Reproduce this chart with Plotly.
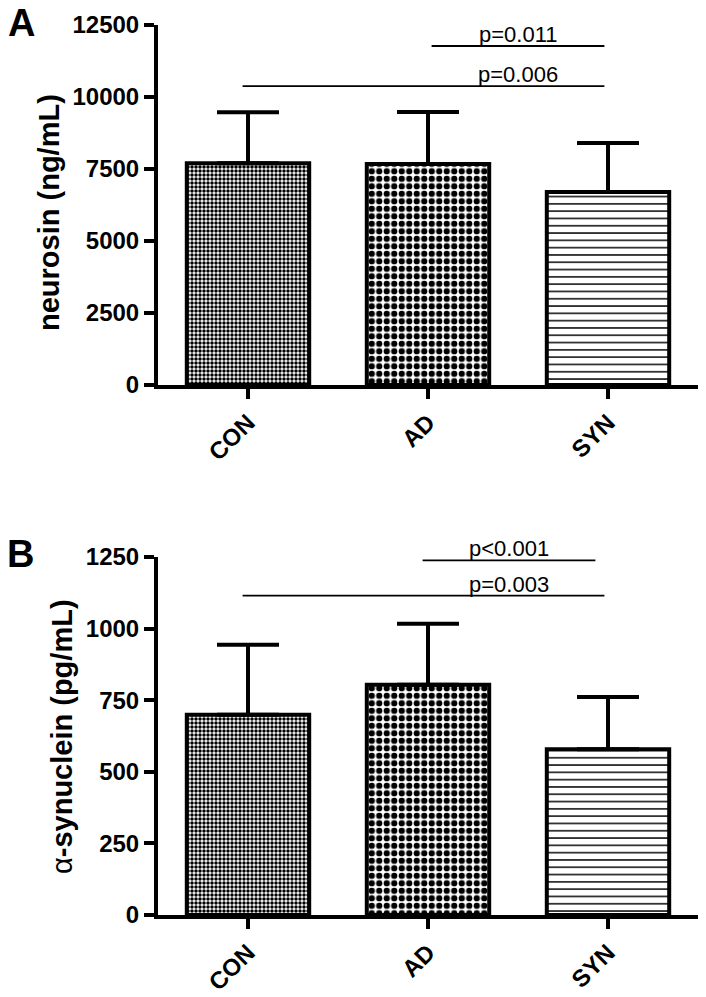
import plotly.graph_objects as go
from plotly.subplots import make_subplots

# ---- data ----
groups = ["CON", "AD", "SYN"]

neurosin_mean = [7700, 7675, 6700]
neurosin_sd = [1770, 1805, 1700]

asyn_mean = [699, 804, 579]
asyn_sd = [245, 213, 182]

# significance brackets: label, x start, x end (category index units), y level
sigA_labels = ["p=0.011", "p=0.006"]
sigA_x0 = [1.02, -0.03]
sigA_x1 = [1.98, 1.98]
sigA_y = [11770, 10380]
sigA_text_x = 1.5

sigB_labels = ["p<0.001", "p=0.003"]
sigB_x0 = [0.97, -0.03]
sigB_x1 = [1.93, 1.98]
sigB_y = [1238, 1115]
sigB_text_x = 1.45

yA_ticks = [0, 2500, 5000, 7500, 10000, 12500]
yB_ticks = [0, 250, 500, 750, 1000, 1250]

# ---- styling ----
pattern_shapes = [".", ".", "-"]
pattern_sizes = [4, 7.5, 7.3]
pattern_solid = [0.6, 0.55, 0.2]

W, H = 706, 997
ML, MR, MT, MB = 158, 8, 25, 82
PW = W - ML - MR
PH = H - MT - MB


def py2paper(py):
    return (H - MB - py) / PH


def px2paper(px):
    return (px - ML) / PW


fig = make_subplots(rows=2, cols=1)


def add_panel(row, means, sds, labels, x0s, x1s, ys, text_x):
    fig.add_trace(go.Bar(
        x=groups, y=means, width=0.68,
        marker=dict(color="white",
                    line=dict(color="black", width=4),
                    pattern=dict(shape=pattern_shapes, size=pattern_sizes,
                                 solidity=pattern_solid, fgcolor="black",
                                 bgcolor="white", fillmode="replace")),
        error_y=dict(type="data", array=sds, arrayminus=[0] * len(sds),
                     symmetric=False, color="black", thickness=4, width=31),
        showlegend=False, hoverinfo="skip"), row=row, col=1)
    xa = "x" if row == 1 else "x2"
    ya = "y" if row == 1 else "y2"
    for lab, a, b, yv in zip(labels, x0s, x1s, ys):
        fig.add_shape(type="line", x0=a, x1=b, y0=yv, y1=yv, xref=xa, yref=ya,
                      line=dict(color="black", width=1.8))
        fig.add_annotation(x=text_x, y=yv, xref=xa, yref=ya, text=lab,
                           showarrow=False, xanchor="center", yanchor="bottom",
                           yshift=-3,
                           font=dict(family="Liberation Sans", size=22, color="black"))


add_panel(1, neurosin_mean, neurosin_sd, sigA_labels, sigA_x0, sigA_x1, sigA_y, sigA_text_x)
add_panel(2, asyn_mean, asyn_sd, sigB_labels, sigB_x0, sigB_x1, sigB_y, sigB_text_x)

tickfont = dict(family="Liberation Sans", size=24, color="black", weight="bold")
xcommon = dict(type="category", range=[-0.5, 2.5], showline=True, linewidth=4,
               linecolor="black", ticks="outside", ticklen=10, tickwidth=3.5,
               tickcolor="black", tickangle=-45, tickfont=tickfont,
               showgrid=False, zeroline=False, domain=[0, 1], automargin=False)
ycommon = dict(showline=True, linewidth=4, linecolor="black", ticks="outside",
               ticklen=10, tickwidth=3.5, tickcolor="black", tickfont=tickfont,
               tickformat="d", showgrid=False, zeroline=False, automargin=False)

fig.update_layout(
    xaxis=dict(**xcommon, anchor="y"),
    xaxis2=dict(**xcommon, anchor="y2"),
    yaxis=dict(**ycommon, range=[0, 12500], tickvals=yA_ticks,
               domain=[py2paper(385), 1.0], anchor="x"),
    yaxis2=dict(**ycommon, range=[0, 1250], tickvals=yB_ticks,
                domain=[0.0, py2paper(557)], anchor="x2"),
    width=W, height=H, autosize=False,
    margin=dict(l=ML, r=MR, t=MT, b=MB),
    paper_bgcolor="white", plot_bgcolor="white",
    bargap=0.3,
)

# axis titles
fig.add_annotation(x=px2paper(49), y=py2paper(212), xref="paper", yref="paper",
                   text="<b>neurosin (ng/mL)</b>", textangle=-90, showarrow=False,
                   xanchor="center", yanchor="middle",
                   font=dict(family="Liberation Sans", size=29, color="black"))
fig.add_annotation(x=px2paper(62), y=py2paper(737), xref="paper", yref="paper",
                   text="α<b>-synuclein (pg/mL)</b>", textangle=-90, showarrow=False,
                   xanchor="center", yanchor="middle",
                   font=dict(family="Liberation Sans", size=29, color="black"))

# panel letters
fig.add_annotation(x=px2paper(21), y=py2paper(23), xref="paper", yref="paper",
                   text="<b>A</b>", showarrow=False, xanchor="center", yanchor="middle",
                   font=dict(family="Liberation Sans", size=38, color="black"))
fig.add_annotation(x=px2paper(20), y=py2paper(554), xref="paper", yref="paper",
                   text="<b>B</b>", showarrow=False, xanchor="center", yanchor="middle",
                   font=dict(family="Liberation Sans", size=38, color="black"))

fig.write_html("out.html", config={"displayModeBar": False},
               post_script="document.body.style.margin='0';document.body.style.overflow='hidden';")
